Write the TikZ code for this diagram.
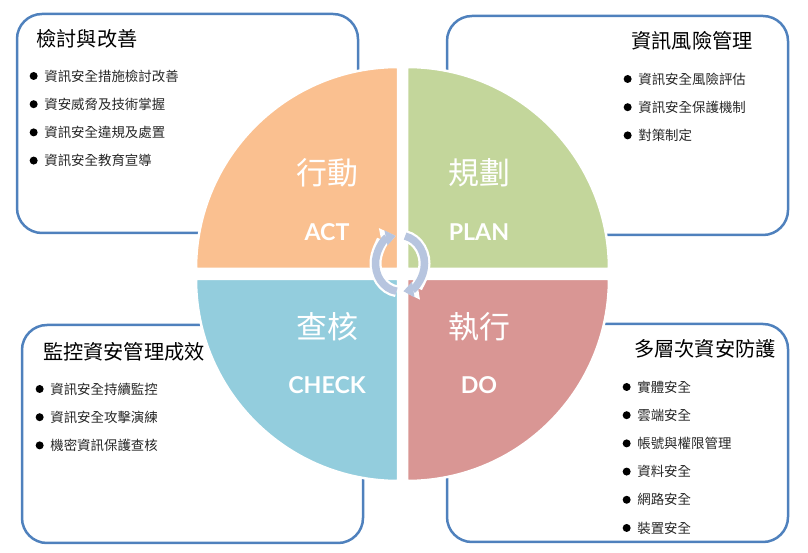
\documentclass[tikz,border=0pt]{standalone}
\usepackage{fontspec}
\setmainfont{Noto Sans CJK TC}
\newfontfamily\latinfont{Lato}
\usepackage{xcolor}
\usetikzlibrary{positioning, arrows.meta, calc}
\definecolor{boxline}{HTML}{4F81BD}
\definecolor{actfill}{HTML}{FAC090}
\definecolor{planfill}{HTML}{C3D69B}
\definecolor{checkfill}{HTML}{93CDDD}
\definecolor{dofill}{HTML}{D99694}
\definecolor{cyclefill}{HTML}{B7C5DF}
\tikzset{
    panel/.style={draw=boxline, line width=0.05cm, rounded corners=0.5cm},
    sector/.style={draw=white, line width=0.05cm},
    title/.style={font=\fontsize{11.5}{13}\selectfont, text=black, inner sep=0pt},
    item/.style={anchor=west, inner sep=0pt, font=\fontsize{7.65}{9}\selectfont, text=black!85,
        label={[circle, fill=black, inner sep=0pt, minimum size=0.16cm, label distance=0.12cm]left:{}}},
    bigword/.style={font=\fontsize{17.6}{20}\selectfont, text=white, inner sep=0pt},
    engword/.style={font=\latinfont\fontsize{13.2}{16}\selectfont\bfseries, text=white, inner sep=0pt},
}
\begin{document}
\begin{tikzpicture}[x=0.02cm, y=0.02cm]
    \useasboundingbox (0,0) rectangle (808,-553);

    % panels
    \draw[panel] (17,-14) rectangle (358,-233);
    \draw[panel] (447,-16) rectangle (788,-235);
    \draw[panel] (22,-325) rectangle (363,-543);
    \draw[panel] (447,-324) rectangle (788,-542);

    % quarter circles
    \coordinate (actC) at (398,-269);
    \coordinate (planC) at (407,-269);
    \coordinate (checkC) at (398,-279);
    \coordinate (doC) at (407,-279);
    \filldraw[sector, fill=actfill] (actC) -- ++(180:202) arc[start angle=180, end angle=90, radius=202] -- cycle;
    \filldraw[sector, fill=planfill] (planC) -- ++(90:202) arc[start angle=90, end angle=0, radius=202] -- cycle;
    \filldraw[sector, fill=checkfill] (checkC) -- ++(270:202) arc[start angle=270, end angle=180, radius=202] -- cycle;
    \filldraw[sector, fill=dofill] (doC) -- ++(0:202) arc[start angle=0, end angle=-90, radius=202] -- cycle;

    % cycle arrows
    \coordinate (cycleC) at (400,-263.5);
    \foreach \col/\wid/\tipw/\tipl in {white/0.24cm/0.42cm/0.3cm, cyclefill/0.15cm/0.3cm/0.2cm} {
        \draw[\col, line width=\wid, -{Triangle[width=\tipw, length=\tipl]}]
            ($(cycleC)+(78:24.5 and 28)$) arc[start angle=78, end angle=-82, x radius=24.5, y radius=28];
        \draw[\col, line width=\wid, -{Triangle[width=\tipw, length=\tipl]}]
            ($(cycleC)+(262:24.5 and 28)$) arc[start angle=262, end angle=100, x radius=24.5, y radius=28];
    }

    % quarter labels
    \node (actZh) [bigword] at (327,-173) {行動};
    \node (actEn) [engword, below=1.18cm of actZh.center, anchor=center] {ACT};
    \node (planZh) [bigword] at (479,-173) {規劃};
    \node (planEn) [engword, below=1.18cm of planZh.center, anchor=center] {PLAN};
    \node (checkZh) [bigword] at (327,-327) {查核};
    \node (checkEn) [engword, below=1.16cm of checkZh.center, anchor=center] {CHECK};
    \node (doZh) [bigword] at (479,-327) {執行};
    \node (doEn) [engword, below=1.16cm of doZh.center, anchor=center] {DO};

    % top left panel
    \node (actTitle) [title] at (87,-39) {檢討與改善};
    \node (act1) [item] at (44,-76) {資訊安全措施檢討改善};
    \node (act2) [below=0.564cm of act1.west, item] {資安威脅及技術掌握};
    \node (act3) [below=0.564cm of act2.west, item] {資訊安全違規及處置};
    \node (act4) [below=0.564cm of act3.west, item] {資訊安全教育宣導};

    % top right panel
    \node (planTitle) [title] at (692,-41) {資訊風險管理};
    \node (plan1) [item] at (638,-79) {資訊安全風險評估};
    \node (plan2) [below=0.564cm of plan1.west, item] {資訊安全保護機制};
    \node (plan3) [below=0.564cm of plan2.west, item] {對策制定};

    % bottom left panel
    \node (checkTitle) [title] at (124,-352) {監控資安管理成效};
    \node (check1) [item] at (50,-389) {資訊安全持續監控};
    \node (check2) [below=0.564cm of check1.west, item] {資訊安全攻擊演練};
    \node (check3) [below=0.564cm of check2.west, item] {機密資訊保護查核};

    % bottom right panel
    \node (doTitle) [title] at (705,-349) {多層次資安防護};
    \node (do1) [item] at (637,-387) {實體安全};
    \node (do2) [below=0.564cm of do1.west, item] {雲端安全};
    \node (do3) [below=0.564cm of do2.west, item] {帳號與權限管理};
    \node (do4) [below=0.564cm of do3.west, item] {資料安全};
    \node (do5) [below=0.564cm of do4.west, item] {網路安全};
    \node (do6) [below=0.564cm of do5.west, item] {裝置安全};
\end{tikzpicture}
\end{document}
